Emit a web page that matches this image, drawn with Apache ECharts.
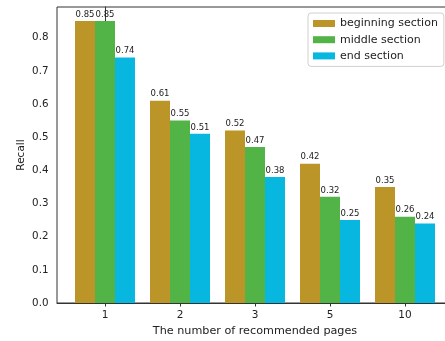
<!DOCTYPE html>
<html>
<head>
<meta charset="utf-8">
<script src="https://cdn.jsdelivr.net/npm/echarts@6/dist/echarts.min.js"></script>
<style>
  html, body { margin: 0; padding: 0; background: #fff; }
  #chart { width: 445px; height: 341px; }
</style>
</head>
<body>
<div id="chart"></div>
<script>
// Recall by number of recommended pages, per section of the document
const categories = ['1', '2', '3', '5', '10'];
const seriesNames = ['beginning section', 'middle section', 'end section'];
const beginningValues = [0.85, 0.61, 0.52, 0.42, 0.35];
const middleValues = [0.85, 0.55, 0.47, 0.32, 0.26];
const endValues = [0.74, 0.51, 0.38, 0.25, 0.24];
const yTicks = [0, 0.1, 0.2, 0.3, 0.4, 0.5, 0.6, 0.7, 0.8];

const colors = ['#bb9528', '#52b447', '#07b7e0'];
const font = 'DejaVu Sans';
const positions = categories.map((_, i) => i);

function barSeries(name, values, color) {
  return {
    name: name,
    type: 'bar',
    barWidth: 20,
    barGap: '0%',
    itemStyle: { color: color },
    label: {
      show: true,
      position: 'top',
      distance: 2,
      fontFamily: font,
      fontSize: 8.5,
      color: '#222',
      formatter: p => p.value[1].toFixed(2)
    },
    data: values.map((v, i) => [positions[i], v])
  };
}

const chart = echarts.init(document.getElementById('chart'));
chart.setOption({
  animation: false,
  grid: {
    left: 57, top: 7, width: 396, bottom: 38,
    outerBoundsMode: 'none',
    containLabel: false,
    show: true, borderColor: '#333', borderWidth: 1,
    backgroundColor: 'transparent'
  },
  legend: {
    left: 308, top: 13,
    orient: 'vertical',
    itemWidth: 22, itemHeight: 7, itemGap: 5.2,
    padding: [5, 6, 5, 5],
    borderColor: '#d0d0d0', borderWidth: 1, borderRadius: 3,
    backgroundColor: '#fff',
    icon: 'rect',
    textStyle: { fontFamily: font, fontSize: 11, color: '#222' },
    data: seriesNames
  },
  xAxis: {
    type: 'value',
    min: -0.64, max: 4.64,
    name: 'The number of recommended pages',
    nameLocation: 'middle', nameGap: 23,
    nameMoveOverlap: false,
    nameTextStyle: { fontFamily: font, fontSize: 11.2, color: '#222' },
    splitLine: { show: false },
    axisLine: { show: true, onZero: false, lineStyle: { color: '#333', width: 1 } },
    axisTick: { show: true, customValues: positions, length: 3.5, lineStyle: { color: '#333' } },
    axisLabel: {
      customValues: positions,
      margin: 7,
      fontFamily: font, fontSize: 10.5, color: '#222',
      formatter: v => categories[Math.round(v)]
    }
  },
  yAxis: {
    type: 'value',
    min: 0, max: 0.8925,
    interval: 0.1,
    name: 'Recall',
    nameLocation: 'middle', nameGap: 30,
    nameMoveOverlap: false,
    nameTextStyle: { fontFamily: font, fontSize: 10.5, color: '#222' },
    splitLine: { show: false },
    axisLine: { show: true, lineStyle: { color: '#333', width: 1 } },
    axisTick: { show: true, length: 3.5, customValues: yTicks, lineStyle: { color: '#333' } },
    axisLabel: {
      customValues: yTicks,
      margin: 8.5,
      fontFamily: font, fontSize: 10.3, color: '#222',
      formatter: v => v.toFixed(1)
    }
  },
  series: [
    barSeries(seriesNames[0], beginningValues, colors[0]),
    barSeries(seriesNames[1], middleValues, colors[1]),
    barSeries(seriesNames[2], endValues, colors[2])
  ]
});
</script>
</body>
</html>
